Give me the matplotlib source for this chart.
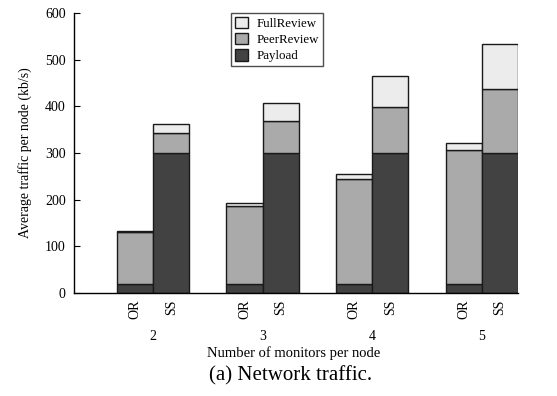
"""Stacked traffic breakdown per node for OR vs SS, by monitors per node."""

import matplotlib

matplotlib.use("Agg")
import matplotlib.pyplot as plt
import matplotlib.transforms as mtransforms
import numpy as np

monitors = ["2", "3", "4", "5"]
schemes = ["OR", "SS"]

# kb/s per node, one entry per monitor count
payload_or = [19, 19, 19, 19]
peer_or = [112, 167, 225, 287]
full_or = [2, 6, 10, 15]

payload_ss = [300, 300, 300, 300]
peer_ss = [43, 68, 99, 137]
full_ss = [20, 40, 66, 96]

_COLORS = {"FullReview": "#ececec", "PeerReview": "#aaaaaa", "Payload": "#424242"}
_EDGE = "#1a1a1a"
_WIDTH = 0.33

plt.rcParams["font.family"] = ["Liberation Serif", "DejaVu Serif"]

fig = plt.figure(figsize=(5.57, 3.96), dpi=100)
ax = fig.add_axes([74 / 557, 103 / 396, 444 / 557, 280 / 396])

groups = np.arange(1, len(monitors) + 1)
x_or = groups - _WIDTH / 2
x_ss = groups + _WIDTH / 2


def stack(x, payload, peer, full):
    payload = np.asarray(payload)
    peer = np.asarray(peer)
    full = np.asarray(full)
    kw = dict(width=_WIDTH, edgecolor=_EDGE, linewidth=1.0)
    b1 = ax.bar(x, payload, color=_COLORS["Payload"], label="Payload", **kw)
    b2 = ax.bar(x, peer, bottom=payload, color=_COLORS["PeerReview"],
                label="PeerReview", **kw)
    b3 = ax.bar(x, full, bottom=payload + peer, color=_COLORS["FullReview"],
                label="FullReview", **kw)
    return b1, b2, b3


h_pay, h_peer, h_full = stack(x_or, payload_or, peer_or, full_or)
stack(x_ss, payload_ss, peer_ss, full_ss)

ax.set_xlim(1 - 0.7215, len(monitors) + _WIDTH)
ax.set_ylim(0, 600)
ax.set_yticks(np.arange(0, 601, 100))
ax.tick_params(axis="y", direction="in", length=4, labelsize=10, pad=6)

xt = np.concatenate([x_or, x_ss])
xl = [schemes[0]] * len(monitors) + [schemes[1]] * len(monitors)
ax.set_xticks(xt)
ax.set_xticklabels(xl, rotation=90, fontsize=10)
ax.tick_params(axis="x", length=0, pad=5)

for side in ("top", "right"):
    ax.spines[side].set_visible(False)
ax.spines["left"].set_linewidth(1.0)
ax.spines["bottom"].set_linewidth(1.0)

# monitor counts under each OR/SS pair
trans = mtransforms.blended_transform_factory(ax.transData, fig.transFigure)
for g, label in zip(groups, monitors):
    ax.text(g, 1 - 337 / 396, label, transform=trans, ha="center",
            va="center", fontsize=10)

fig.text((74 + 518) / 2 / 557 - 0.005, 1 - 353 / 396,
         "Number of monitors per node", ha="center", va="center", fontsize=10.5)
ax.set_ylabel("Average traffic per node (kb/s)", fontsize=10, labelpad=9)
fig.text(291 / 557, 1 - 376 / 396, "(a) Network traffic.", ha="center",
         va="center", fontsize=15)

leg = ax.legend([h_full, h_peer, h_pay], ["FullReview", "PeerReview", "Payload"],
                loc="upper left", bbox_to_anchor=(0.354, 1.0), fontsize=9.3,
                frameon=True, fancybox=False, handlelength=1.0,
                handleheight=1.0, handletextpad=0.7, borderpad=0.3,
                labelspacing=0.22, borderaxespad=0)
leg.get_frame().set_edgecolor("#222222")
leg.get_frame().set_linewidth(1.0)

fig.savefig("out.png", dpi=100)
